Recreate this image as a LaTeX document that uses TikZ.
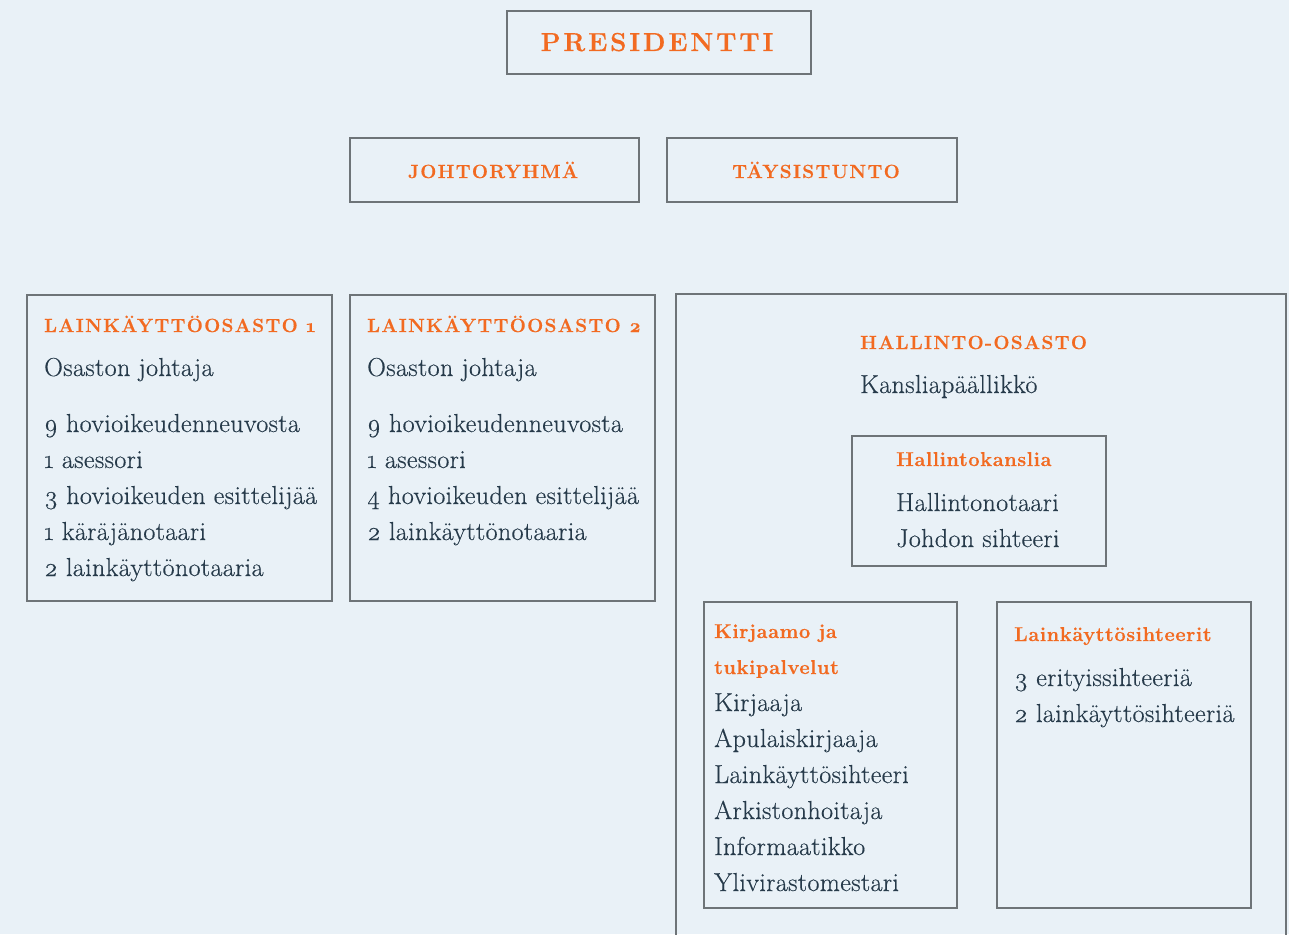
\documentclass[tikz,border=0pt]{standalone}
\usepackage{fontspec}
\setmainfont{Latin Modern Roman}
\definecolor{bg}{HTML}{E9F1F7}
\definecolor{org}{HTML}{F26A21}
\definecolor{txt}{HTML}{263A4A}
\definecolor{brd}{HTML}{6E7478}
\newcommand{\osn}[1]{\oldstylenums{#1}}
\tikzset{
  x=1pt, y=-1pt,
  box/.style={draw=brd, line width=1.1pt},
  hd/.style={anchor=base west, inner sep=0pt, text=org, font=\fontsize{19}{20}\selectfont\bfseries\addfontfeatures{LetterSpace=7,FakeBold=0.5}},
  big/.style={anchor=base, inner sep=0pt, text=org, font=\fontsize{26}{30}\selectfont\bfseries\addfontfeatures{LetterSpace=11,FakeBold=0.5}},
  sub/.style={anchor=base west, inner sep=0pt, text=org, font=\fontsize{20}{22}\selectfont\bfseries\addfontfeatures{LetterSpace=3,FakeBold=0.5}},
  body/.style={anchor=base west, inner sep=0pt, text=txt, font=\fontsize{26}{30}\selectfont\addfontfeatures{LetterSpace=1.5,FakeBold=0.4}},
}
\begin{document}
\begin{tikzpicture}
\fill[bg] (0,0) rectangle (1289,934);
\useasboundingbox (0,0) rectangle (1289,934);
\clip (0,0) rectangle (1289,934);
% boxes
\draw[box] (507,11) rectangle (811,74);
\draw[box] (350,138) rectangle (639,202);
\draw[box] (667,138) rectangle (957,202);
\draw[box] (27,295) rectangle (332,601);
\draw[box] (350,295) rectangle (655,601);
\draw[box] (676,294) rectangle (1286,980);
\draw[box] (852,436) rectangle (1106,566);
\draw[box] (704,602) rectangle (957,908);
\draw[box] (997,602) rectangle (1251,908);
% titles
\node[big] (pres) at (657,51) {PRESIDENTTI};
\node[hd, anchor=base] (johto) at (493,178) {JOHTORYHMÄ};
\node[hd, anchor=base] (taysi) at (816,178) {TÄYSISTUNTO};
% osasto 1
\node[hd] (o1h) at (44,332) {LAINKÄYTTÖOSASTO \osn{1}};
\node[body] (o1j) at (44,376) {Osaston johtaja};
\node[body] (o1a) at (44,432) {\osn{9} hovioikeudenneuvosta};
\node[body] (o1b) at (44,468) {\osn{1} asessori};
\node[body] (o1c) at (44,504) {\osn{3} hovioikeuden esittelijää};
\node[body] (o1d) at (44,540) {\osn{1} käräjänotaari};
\node[body] (o1e) at (44,576) {\osn{2} lainkäyttönotaaria};
% osasto 2
\node[hd] (o2h) at (367,332) {LAINKÄYTTÖOSASTO \osn{2}};
\node[body] (o2j) at (367,376) {Osaston johtaja};
\node[body] (o2a) at (367,432) {\osn{9} hovioikeudenneuvosta};
\node[body] (o2b) at (367,468) {\osn{1} asessori};
\node[body] (o2c) at (367,504) {\osn{4} hovioikeuden esittelijää};
\node[body] (o2d) at (367,540) {\osn{2} lainkäyttönotaaria};
% hallinto
\node[hd] (hoh) at (860,349) {HALLINTO-OSASTO};
\node[body] (hok) at (860,393) {Kansliapäällikkö};
\node[sub] (hkh) at (896,466) {Hallintokanslia};
\node[body] (hka) at (896,511) {Hallintonotaari};
\node[body] (hkb) at (896,547) {Johdon sihteeri};
% kirjaamo
\node[sub] (kjh1) at (714,638) {Kirjaamo ja};
\node[sub] (kjh2) at (714,674) {tukipalvelut};
\node[body] (kja) at (714,711) {Kirjaaja};
\node[body] (kjb) at (714,747) {Apulaiskirjaaja};
\node[body] (kjc) at (714,783) {Lainkäyttösihteeri};
\node[body] (kjd) at (714,819) {Arkistonhoitaja};
\node[body] (kje) at (714,855) {Informaatikko};
\node[body] (kjf) at (714,891) {Ylivirastomestari};
% lainkayttosihteerit
\node[sub] (lsh) at (1014,641) {Lainkäyttösihteerit};
\node[body] (lsa) at (1014,686) {\osn{3} erityissihteeriä};
\node[body] (lsb) at (1014,722) {\osn{2} lainkäyttösihteeriä};
\end{tikzpicture}
\end{document}
